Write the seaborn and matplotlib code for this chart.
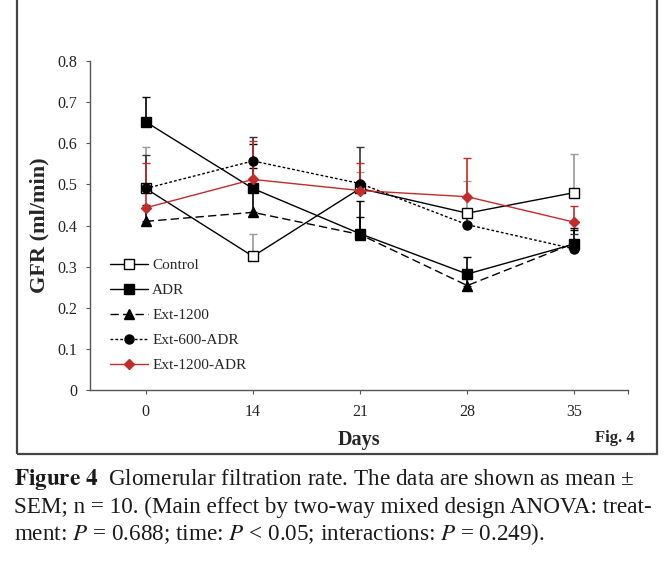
import matplotlib
matplotlib.use("Agg")
import matplotlib.pyplot as plt
import seaborn as sns
import pandas as pd
import numpy as np
from matplotlib.patches import Rectangle

days = ["0", "14", "21", "28", "35"]
groups = ["Control", "ADR", "Ext-1200", "Ext-600-ADR", "Ext-1200-ADR"]

control = [0.49, 0.325, 0.49, 0.43, 0.48]
adr = [0.652, 0.49, 0.38, 0.282, 0.355]
ext1200 = [0.41, 0.432, 0.378, 0.254, 0.357]
ext600_adr = [0.49, 0.557, 0.502, 0.402, 0.343]
ext1200_adr = [0.443, 0.512, 0.485, 0.47, 0.408]

control_sem = [0.10, 0.054, 0.041, 0.079, 0.093]
adr_sem = [0.060, 0.108, 0.040, 0.042, 0.040]
ext1200_sem = [0.040, 0.109, 0.082, 0.036, 0.033]
ext600_adr_sem = [0.082, 0.059, 0.090, 0.038, 0.037]
ext1200_adr_sem = [0.110, 0.094, 0.066, 0.093, 0.039]

means = [control, adr, ext1200, ext600_adr, ext1200_adr]
sems = [control_sem, adr_sem, ext1200_sem, ext600_adr_sem, ext1200_adr_sem]

sns.set_theme(style="white")
plt.rcParams["font.family"] = ["Liberation Serif", "DejaVu Serif"]
plt.rcParams["mathtext.fontset"] = "stix"

RED = "#c42b2b"
styles = {
    "Control": dict(color="black", marker="s", mfc="white", mec="black", ls="-", ms=6.5, ecol="#9a9a9a"),
    "ADR": dict(color="black", marker="s", mfc="black", mec="black", ls="-", ms=6.5, ecol="black"),
    "Ext-1200": dict(color="black", marker="^", mfc="black", mec="black", ls=(0, (6, 3)), ms=6.5, ecol="black"),
    "Ext-600-ADR": dict(color="black", marker="o", mfc="black", mec="black", ls=(0, (2, 1.5)), ms=6.5, ecol="#333333"),
    "Ext-1200-ADR": dict(color=RED, marker="D", mfc=RED, mec=RED, ls="-", ms=5.5, ecol=RED),
}

fig = plt.figure(figsize=(6.72, 5.68), dpi=100)
ax = fig.add_axes([90/672, 1-390/568, (628-90)/672, (390-61)/568])

pos = np.arange(len(days))
for g, m, s in zip(groups, means, sems):
    st = styles[g]
    ax.errorbar(pos, m, yerr=[np.zeros(len(s)), s], fmt="none", ecolor=st["ecol"],
                elinewidth=1.2, capsize=3, capthick=1.0, zorder=2)
    df = pd.DataFrame({"pos": pos, "GFR": m})
    sns.lineplot(data=df, x="pos", y="GFR", ax=ax, color=st["color"], marker=st["marker"],
                 markerfacecolor=st["mfc"], markeredgecolor=st["mec"], markersize=st["ms"],
                 markeredgewidth=1.0, linestyle=st["ls"], linewidth=1.0, label=g, zorder=3)

ax.set_xlim(-0.52, 4.5)
ax.set_ylim(0, 0.8)
ax.set_xticks(pos)
ax.set_xticklabels(days)
ax.set_xticks([4.5], minor=True)
ax.set_yticks(np.arange(0, 0.81, 0.1))
ax.set_yticklabels(["0"] + [f"{v:.1f}" for v in np.arange(0.1, 0.81, 0.1)])
for sp in ["top", "right"]:
    ax.spines[sp].set_visible(False)
for sp in ["left", "bottom"]:
    ax.spines[sp].set_color("#555555")
    ax.spines[sp].set_linewidth(1.0)
ax.tick_params(axis="both", which="both", direction="out", length=3, width=0.8,
               color="#555555", labelsize=11.5, labelcolor="#222222")
ax.tick_params(axis="x", pad=7)
ax.tick_params(axis="y", pad=6, left=True)
ax.tick_params(axis="x", bottom=True, which="both")
ax.set_xlabel("Days", fontsize=14.5, fontweight="bold", labelpad=7)
ax.set_ylabel("GFR (ml/min)", fontsize=16, fontweight="bold", labelpad=6)

leg = ax.legend(loc="upper left", bbox_to_anchor=(0.025, 0.418), frameon=False, fontsize=11,
                handlelength=2.5, handletextpad=0.3, labelspacing=0.74, borderaxespad=0)

fig.text(615/672, 1-438/568, "Fig. 4", fontsize=12, fontweight="bold", ha="center", va="center")

frame = Rectangle((17/672, 1-454/568), (657-17)/672, 0.9, transform=fig.transFigure,
                  fill=False, edgecolor="#444444", linewidth=1.6, clip_on=False)
fig.patches.append(frame)

cap_kw = dict(fontsize=16.7, ha="left", va="center", color="#1a1a1a")
fig.text(14/672, 1-479/568, r"$\bf{Figure\ 4}$  Glomerular filtration rate. The data are shown as mean ±", **cap_kw)
fig.text(14/672, 1-507/568, "SEM; n = 10. (Main effect by two-way mixed design ANOVA: treat-", **cap_kw)
fig.text(14/672, 1-534/568, r"ment: $\it{P}$ = 0.688; time: $\it{P}$ < 0.05; interactions: $\it{P}$ = 0.249).", **cap_kw)

fig.savefig("out.png", dpi=100)
